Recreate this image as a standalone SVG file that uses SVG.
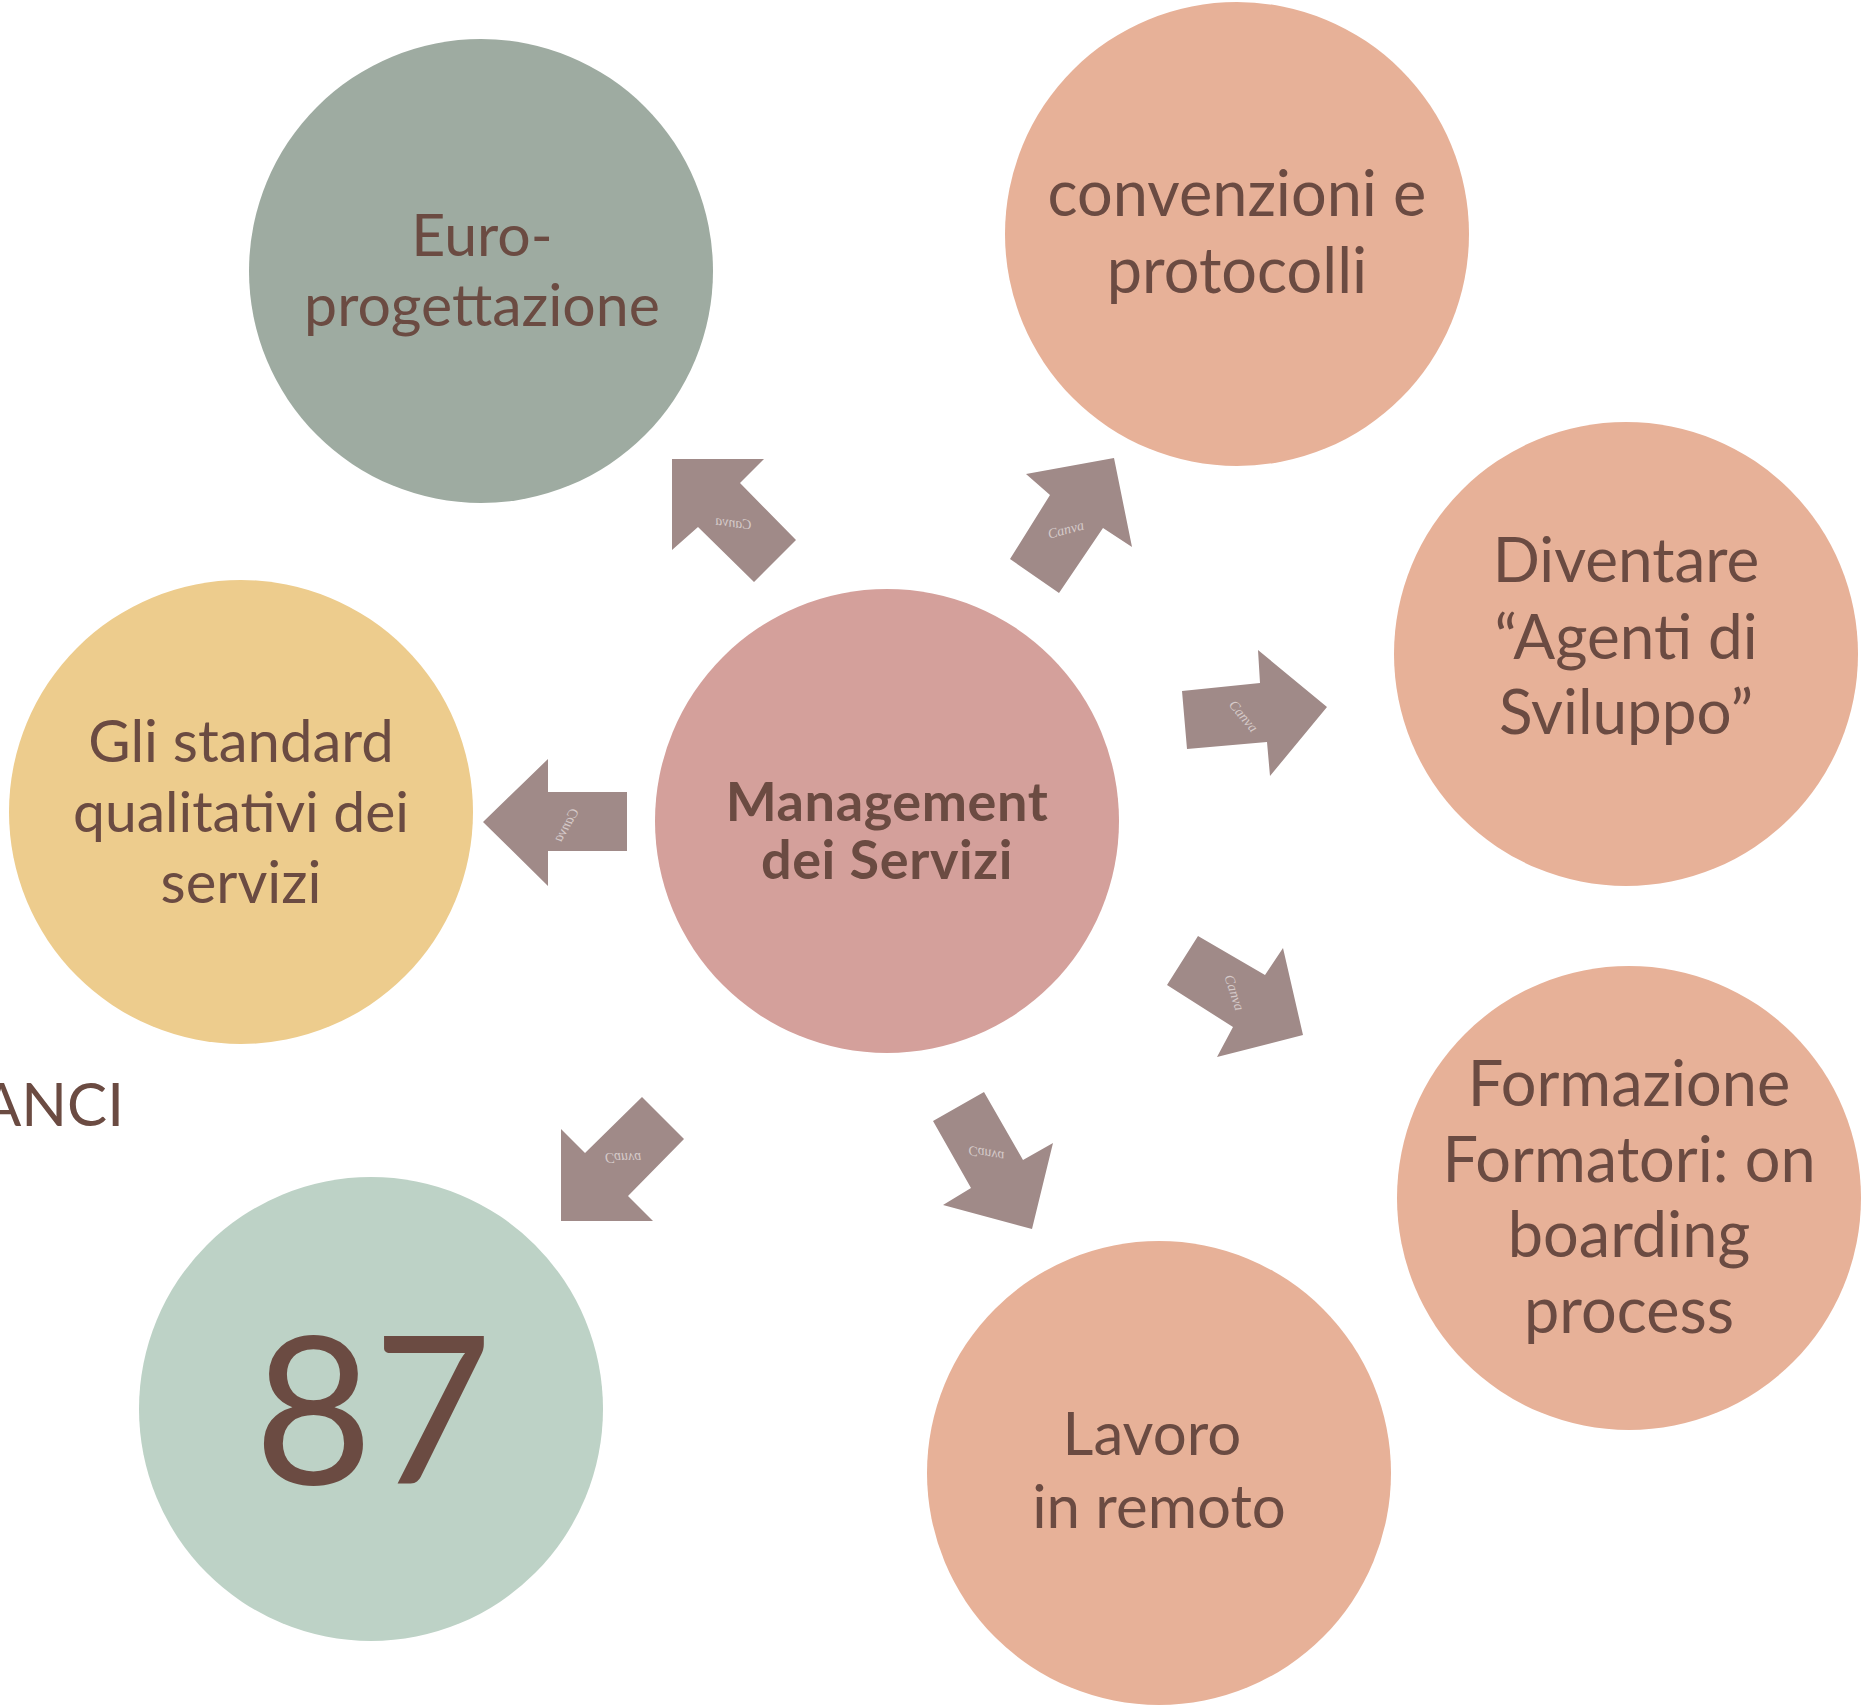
<svg xmlns="http://www.w3.org/2000/svg" width="1864" height="1707" viewBox="0 0 1864 1707">
<style>
.t{font-family:Lato,"Noto Sans",sans-serif;font-size:56px;fill:#6B4B42;text-anchor:middle}
.b{font-family:Lato,"Noto Sans",sans-serif;font-size:54px;font-weight:bold;letter-spacing:0.6px;fill:#6B4B42;text-anchor:middle}
.arr{fill:#A08A88}
.wm{font-family:"Liberation Serif",serif;font-style:italic;font-size:14px;fill:#D6CACA;text-anchor:middle}
</style>
<rect width="1864" height="1707" fill="#FFFFFF"/>
<g id="connectors">
<polygon class="arr" points="672,459 764,459 740,483 796,540 754,582 698,527 672,550"/>
<polygon class="arr" points="1026,474 1114,458 1132,547 1103,528 1059,593 1010,559 1050,495"/>
<polygon class="arr" points="483,822 548,759 548,792 627,792 627,851 548,851 548,886"/>
<polygon class="arr" points="1182,691 1260,683 1258,650 1327,707 1270,776 1267,742 1187,749"/>
<polygon class="arr" points="1198,936 1265,975 1283,948 1303,1035 1217,1057 1233,1027 1167,985"/>
<polygon class="arr" points="642,1097 684,1139 628,1196 653,1221 561,1221 561,1129 585,1153"/>
<polygon class="arr" points="933,1121 984,1092 1023,1160 1053,1143 1032,1229 943,1205 971,1188"/>
<text class="wm" transform="translate(733,527) scale(-1,1) rotate(-8)">Canva</text>
<text class="wm" transform="translate(1067,534) rotate(-15)">Canva</text>
<text class="wm" transform="translate(570,827) scale(-1,1) rotate(60)">Canva</text>
<text class="wm" transform="translate(1240,719) rotate(50)">Canva</text>
<text class="wm" transform="translate(1230,994) rotate(72)">Canva</text>
<text class="wm" transform="translate(623,1153) scale(1,-1)">Canva</text>
<text class="wm" transform="translate(987,1149) scale(1,-1) rotate(-10)">Canva</text>
</g>
<g id="node-euro">
<circle cx="481" cy="271" r="232" fill="#9EABA1"/>
<text class="t" x="482" y="256" style="font-size:59px">Euro-</text>
<text class="t" x="482" y="326" style="font-size:59px">progettazione</text>
</g>
<g id="node-convenzioni">
<circle cx="1237" cy="234" r="232" fill="#E7B198"/>
<text class="t" x="1237" y="216" style="font-size:63px">convenzioni e</text>
<text class="t" x="1237" y="293" style="font-size:63px">protocolli</text>
</g>
<g id="node-diventare">
<circle cx="1626" cy="654" r="232" fill="#E7B198"/>
<text class="t" x="1626" y="582" style="font-size:62px">Diventare</text>
<text class="t" x="1626" y="659" style="font-size:62px">“Agenti di</text>
<text class="t" x="1626" y="734" style="font-size:62px">Sviluppo”</text>
</g>
<g id="node-standard">
<circle cx="241" cy="812" r="232" fill="#EDCC8D"/>
<text class="t" x="241" y="762" style="font-size:58px">Gli standard</text>
<text class="t" x="241" y="832" style="font-size:57px">qualitativi dei</text>
<text class="t" x="241" y="903" style="font-size:58px">servizi</text>
</g>
<g id="node-management">
<circle cx="887" cy="821" r="232" fill="#D4A09B"/>
<text class="b" x="887" y="821">Management</text>
<text class="b" x="887" y="879">dei Servizi</text>
</g>
<g id="node-formazione">
<circle cx="1629" cy="1198" r="232" fill="#E7B198"/>
<text class="t" x="1629" y="1106" style="font-size:63px">Formazione</text>
<text class="t" x="1629" y="1182" style="font-size:63px">Formatori: on</text>
<text class="t" x="1629" y="1257" style="font-size:63px">boarding</text>
<text class="t" x="1629" y="1333" style="font-size:63px">process</text>
</g>
<g id="node-lavoro">
<circle cx="1159" cy="1473" r="232" fill="#E7B198"/>
<text class="t" x="1152" y="1455" style="font-size:60px">Lavoro</text>
<text class="t" x="1159" y="1528" style="font-size:60px">in remoto</text>
</g>
<g id="node-87">
<circle cx="371" cy="1409" r="232" fill="#BDD2C6"/>
<text class="t" x="373" y="1484" style="font-size:205px">87</text>
</g>
<g id="label-anci">
<text class="t" x="124" y="1126" style="text-anchor:end;font-size:60px">ANCI</text>
</g>
</svg>
